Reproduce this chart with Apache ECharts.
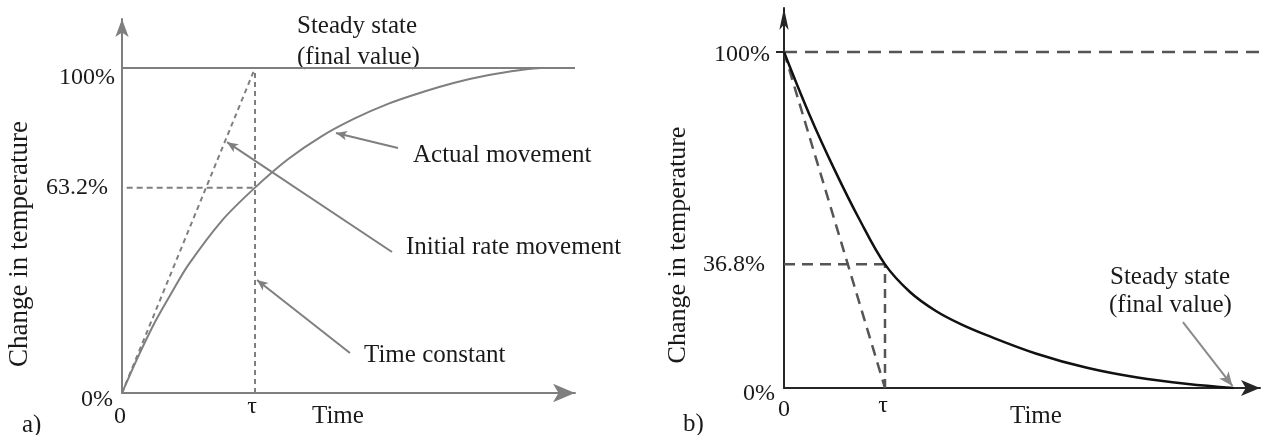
<!DOCTYPE html>
<html>
<head>
<meta charset="utf-8">
<script src="https://cdn.jsdelivr.net/npm/echarts@6/dist/echarts.min.js"></script>
<style>
  html, body { margin: 0; padding: 0; background: #fff; }
  #chart { width: 1271px; height: 435px; }
</style>
</head>
<body>
<div id="chart"></div>
<script>
// a) first-order step response: time in units of τ, change in %
const riseTime  = [0, 0.125, 0.25, 0.375, 0.5, 0.75, 1, 1.25, 1.5, 1.75, 2, 2.25, 2.5, 2.75, 3.0, 3.15, 3.406];
const riseValue = [0, 11.5, 22, 31, 39.5, 53, 63.2, 72, 79, 84.5, 89, 92.5, 95.5, 97.8, 99.4, 100, 100];
const riseTicks = [0, 63.2, 100];
const riseTimeTicks = [0, 1];
const riseTimeLabels = ['0', 'τ'];
// annotation arrows [from, to] in (τ, %)
const riseArrows = [
  [[2.075, 75.4], [1.609, 80]],
  [[2.03, 43.4], [0.79, 77.2]],
  [[1.714, 12.3], [1.015, 34.8]]
];

// b) first-order decay: time in units of τ, change in %
const decayTime  = [0, 0.25, 0.5, 0.75, 1, 1.25, 1.5, 1.75, 2, 2.5, 3, 3.5, 4, 4.45];
const decayValue = [100, 81.5, 65, 50, 36.8, 28.5, 23, 19, 15.8, 10.2, 6.0, 3.1, 1.2, 0];
const decayTicks = [0, 36.8, 100];
const decayTimeTicks = [0, 1];
const decayTimeLabels = ['0', 'τ'];
const decayArrows = [
  [[3.95, 19.6], [4.44, 0.6]]
];

const FONT = '"Liberation Serif", "Times New Roman", serif';
const INK = '#1a1a1a';
const GREY = '#7f7f7f';
const DARK = '#262626';
const DASH = '#555555';

const pairs = (xs, ys) => xs.map((x, i) => [x, ys[i]]);

function seg(name, grid, data, color, width, type, extra) {
  return Object.assign({
    name, type: 'line', xAxisIndex: grid, yAxisIndex: grid,
    data, showSymbol: false, symbol: 'none', silent: true, animation: false,
    lineStyle: { color, width, type: type || 'solid' }
  }, extra || {});
}

function arrows(list, color, size) {
  return {
    silent: true, animation: false,
    symbol: ['none', 'arrow'], symbolSize: size,
    label: { show: false },
    lineStyle: { color, width: 2, type: 'solid' },
    data: list.map(a => [{ coord: a[0] }, { coord: a[1] }])
  };
}

function text(str, x, y, size, extra) {
  return Object.assign({
    type: 'text', x, y, silent: true,
    style: { text: str, fill: INK, font: size + 'px ' + FONT, align: 'left', verticalAlign: 'middle' }
  }, extra || {});
}

function vtext(str, x, y, size) {
  return {
    type: 'text', x, y, rotation: Math.PI / 2, silent: true,
    style: { text: str, fill: INK, font: size + 'px ' + FONT, align: 'center', verticalAlign: 'middle' }
  };
}

// percent tick labels; pads nudge each label as set in the figure
function valueLabel(ticks, pads) {
  const rich = {};
  ticks.forEach((t, i) => {
    rich['t' + i] = { fontFamily: FONT, fontSize: 24, color: INK, padding: pads[i] };
  });
  return {
    customValues: ticks, margin: 6,
    fontFamily: FONT, fontSize: 24, color: INK,
    formatter: v => '{t' + ticks.indexOf(v) + '|' + v + '%}',
    rich
  };
}

function timeLabel(ticks, labels, pads) {
  const rich = {};
  ticks.forEach((t, i) => {
    rich['t' + i] = { fontFamily: FONT, fontSize: 24, color: INK, padding: pads[i] };
  });
  return {
    customValues: ticks, margin: 2,
    fontFamily: FONT, fontSize: 24, color: INK,
    formatter: v => '{t' + ticks.indexOf(v) + '|' + labels[ticks.indexOf(v)] + '}',
    rich
  };
}

const riseMaxX = 3.406, riseMaxY = 115.1;
const decayMaxX = 4.713, decayMaxY = 113.1;

const option = {
  backgroundColor: '#fff',
  animation: false,
  grid: [
    { left: 122, top: 19, width: 453, height: 374 },
    { left: 784, top: 8, width: 476, height: 380 }
  ],
  xAxis: [
    {
      gridIndex: 0, type: 'value', min: 0, max: riseMaxX,
      axisLine: { show: true, symbol: ['none', 'arrow'], symbolSize: [14, 22],
                  lineStyle: { color: GREY, width: 2 } },
      axisTick: { show: false }, splitLine: { show: false },
      axisLabel: timeLabel(riseTimeTicks, riseTimeLabels, [[10, 4, 0, 0], [0, 6, 0, 0]])
    },
    {
      gridIndex: 1, type: 'value', min: 0, max: decayMaxX,
      axisLine: { show: true, symbol: ['none', 'arrow'], symbolSize: [12, 19],
                  lineStyle: { color: DARK, width: 2 } },
      axisTick: { show: false }, splitLine: { show: false },
      axisLabel: timeLabel(decayTimeTicks, decayTimeLabels, [[8, 0, 0, 0], [4, 4, 0, 0]])
    }
  ],
  yAxis: [
    {
      gridIndex: 0, type: 'value', min: 0, max: riseMaxY,
      axisLine: { show: true, symbol: ['none', 'arrow'], symbolSize: [10, 18],
                  lineStyle: { color: GREY, width: 2 } },
      axisTick: { show: false }, splitLine: { show: false },
      axisLabel: valueLabel(riseTicks, [[14, 3, 0, 0], [0, 8, 0, 0], [20, 1, 0, 0]])
    },
    {
      gridIndex: 1, type: 'value', min: 0, max: decayMaxY,
      axisLine: { show: true, symbol: ['none', 'arrow'], symbolSize: [7, 22],
                  lineStyle: { color: DARK, width: 2 } },
      axisTick: { show: true, customValues: [100], length: 8, lineStyle: { color: DARK, width: 2 } },
      splitLine: { show: false },
      axisLabel: valueLabel(decayTicks, [[12, 3, 0, 0], [0, 13, 0, 0], [6, 8, 0, 0]])
    }
  ],
  series: [
    // a)
    seg('Steady state', 0, [[0, 100], [riseMaxX, 100]], GREY, 2),
    seg('Initial rate', 0, [[0, 0], [1, 100]], GREY, 2, [5, 4],
        { markLine: arrows(riseArrows, GREY, [7, 11]) }),
    seg('63.2% level', 0, [[-0.04, 63.2], [1, 63.2]], GREY, 2, [6, 4], { clip: false }),
    seg('Time constant', 0, [[1, 0], [1, 100]], GREY, 2, [5, 4]),
    seg('Actual movement', 0, pairs(riseTime, riseValue), GREY, 2, 'solid', { smooth: 0.3 }),
    // b)
    seg('100% level', 1, [[0, 100], [decayMaxX + 0.11, 100]], DASH, 2.5, [13, 8], { clip: false }),
    seg('Tangent', 1, [[0, 100], [1, 0]], DASH, 2.5, [11, 7],
        { markLine: arrows(decayArrows, '#8a8a8a', [9, 14]) }),
    seg('36.8% level', 1, [[0, 36.8], [1, 36.8]], DASH, 2.5, [11, 7]),
    seg('τ level', 1, [[1, 0], [1, 36.8]], DASH, 2.5, [9, 6]),
    seg('Decay', 1, pairs(decayTime, decayValue), '#111', 2.5, 'solid', { smooth: 0.35 })
  ],
  graphic: [
    vtext('Change in temperature', 20, 244, 27),
    text('Steady state', 297, 26, 25),
    text('(final value)', 297, 57, 25),
    text('Actual movement', 413, 155, 25),
    text('Initial rate movement', 406, 247, 25),
    text('Time constant', 364, 355, 25),
    text('Time', 312, 416, 25),
    text('a)', 22, 425, 25),

    vtext('Change in temperature', 678, 245, 26),
    text('Steady state', 1110, 277, 25),
    text('(final value)', 1109, 305, 25),
    text('Time', 1010, 416, 25),
    text('b)', 683, 424, 25)
  ]
};

const chart = echarts.init(document.getElementById('chart'), null, { renderer: 'canvas' });
chart.setOption(option);
</script>
</body>
</html>
